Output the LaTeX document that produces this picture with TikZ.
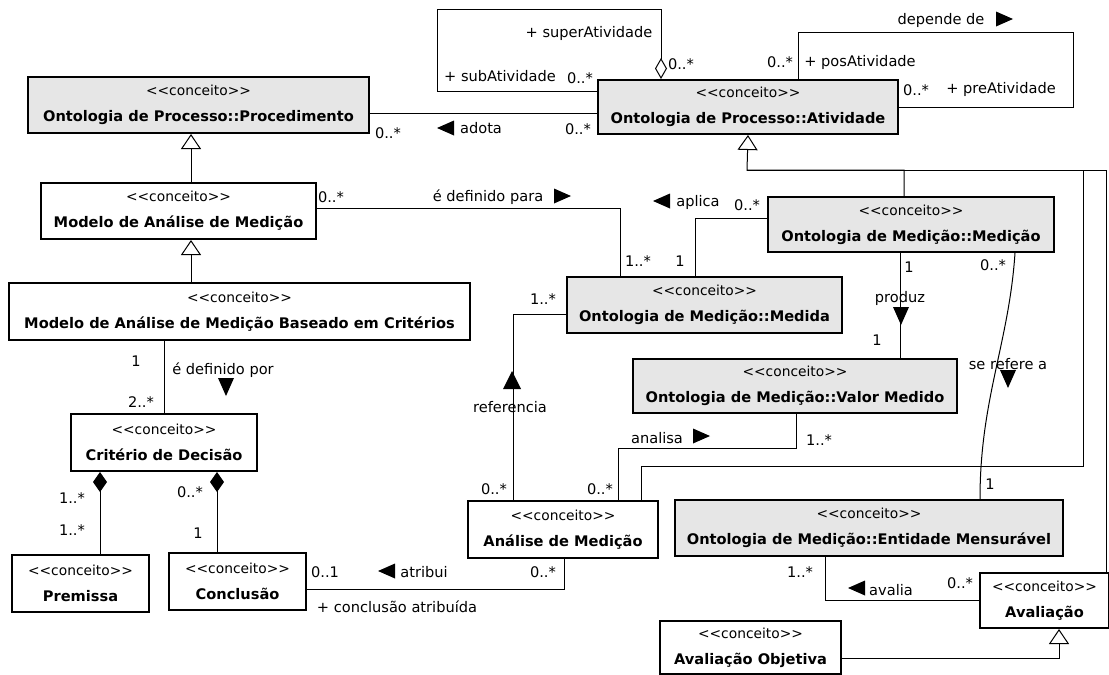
\documentclass[tikz,border=0pt]{standalone}
\usepackage{fontspec}
\setmainfont{DejaVu Sans}
\usetikzlibrary{arrows.meta}
\definecolor{ontogray}{HTML}{E6E6E6}
\newcommand{\stereo}{{\fontsize{13.8}{26}\selectfont <{}<conceito>{}>}}

\begin{document}
\begin{tikzpicture}[x=1pt,y=-1pt,
  concept/.style={draw,line width=2pt,fill=white,align=center,inner sep=0pt,
    anchor=north west,font=\fontsize{14.6}{26}\selectfont},
  ontology/.style={concept,fill=ontogray},
  assoc/.style={line width=1pt},
  gen/.style={assoc,-{Triangle[length=15pt,width=20pt,fill=white]}},
  comp/.style={assoc,{Diamond[length=20pt,width=14pt]}-},
  aggr/.style={assoc,{Diamond[length=21pt,width=12pt,fill=white]}-},
  lbl/.style={font=\fontsize{14.6}{17}\selectfont,inner sep=0pt},
  pics/dir right/.style={code={\fill (-8,-7.5) -- (9,0) -- (-8,7.5) -- cycle;}},
  pics/dir left/.style={code={\fill (8,-7.5) -- (-9,0) -- (8,7.5) -- cycle;}},
  pics/dir down/.style={code={\fill (-8,-9) -- (8,-9) -- (0,9) -- cycle;}},
  pics/dir up/.style={code={\fill (-9,9) -- (9,9) -- (0,-9) -- cycle;}}]

  \useasboundingbox (0,0) rectangle (1109,675);

  % ---- Classes ---------------------------------------------
  \node[ontology,minimum width=341pt,minimum height=56pt] (proc) at (27,76)
    {\stereo\\\textbf{Ontologia de Processo::Procedimento}};
  \node[ontology,minimum width=300pt,minimum height=54pt] (ativ) at (597,79)
    {\stereo\\\textbf{Ontologia de Processo::Atividade}};
  \node[concept,minimum width=275pt,minimum height=56pt] (mam) at (40,182)
    {\stereo\\\textbf{Modelo de Análise de Medição}};
  \node[concept,minimum width=461pt,minimum height=57pt] (base) at (8,282)
    {\stereo\\\textbf{Modelo de Análise de Medição Baseado em Critérios}};
  \node[concept,minimum width=186pt,minimum height=57pt] (crit) at (70,413)
    {\stereo\\\textbf{Critério de Decisão}};
  \node[concept,minimum width=137pt,minimum height=57pt] (prem) at (11,554)
    {\stereo\\\textbf{Premissa}};
  \node[concept,minimum width=137pt,minimum height=57pt] (concl) at (168,552)
    {\stereo\\\textbf{Conclusão}};
  \node[concept,minimum width=190pt,minimum height=57pt] (ana) at (467,500)
    {\stereo\\\textbf{Análise de Medição}};
  \node[ontology,minimum width=275pt,minimum height=56pt] (med) at (566,276)
    {\stereo\\\textbf{Ontologia de Medição::Medida}};
  \node[ontology,minimum width=286pt,minimum height=55pt] (medc) at (767,196)
    {\stereo\\\textbf{Ontologia de Medição::Medição}};
  \node[ontology,minimum width=324pt,minimum height=54pt] (vm) at (632,358)
    {\stereo\\\textbf{Ontologia de Medição::Valor Medido}};
  \node[ontology,minimum width=388pt,minimum height=56pt] (ent) at (674,499)
    {\stereo\\\textbf{Ontologia de Medição::Entidade Mensurável}};
  \node[concept,minimum width=129pt,minimum height=55pt] (ava) at (979,572)
    {\stereo\\\textbf{Avaliação}};
  \node[concept,minimum width=181pt,minimum height=53pt] (obj) at (659,620)
    {\stereo\\\textbf{Avaliação Objetiva}};

  % ---- Atividade: self associations ------------------------
  \draw[aggr] ([xshift=-87pt]ativ.north) |- (437,9) |- ([yshift=16pt]ativ.west);
  \node[lbl] (supA) at (589,33) {+ superAtividade};
  \node[lbl] (supM) at (681,64) {0..*};
  \node[lbl] (subA) at (500,76) {+ subAtividade};
  \node[lbl] (subM) at (580,78) {0..*};

  \draw[assoc] ([xshift=50pt]ativ.north) |- (1073,32) |- (ativ.east);
  \node[lbl] (dep) at (941,20) {depende de};
  \pic at (1004,19) {dir right};
  \node[lbl] (posM) at (780,62) {0..*};
  \node[lbl] (posA) at (860,62) {+ posAtividade};
  \node[lbl] (preM) at (916,90) {0..*};
  \node[lbl] (preA) at (1001,89) {+ preAtividade};

  % ---- adota -----------------------------------------------
  \coordinate (adotaL) at ([yshift=-8pt]proc.east);
  \draw[assoc] (adotaL) -- (adotaL -| ativ.west);
  \node[lbl] (adM1) at (388,133) {0..*};
  \pic at (446,128) {dir left};
  \node[lbl] (adota) at (481,128) {adota};
  \node[lbl] (adM2) at (578,129) {0..*};

  % ---- Generalizations (left) ------------------------------
  \draw[gen] ([xshift=12.5pt]mam.north) coordinate (g1) -- (g1 |- proc.south);
  \draw[gen] ([xshift=-48.5pt]base.north) coordinate (g2) -- (g2 |- mam.south);

  % ---- Generalizations to Atividade ------------------------
  \coordinate (bus) at (747,170);
  \draw[gen] ([xshift=-7pt]medc.north) |- (bus) -- (ativ.south);
  \draw[assoc] ([xshift=61.5pt]ava.north) |- (bus);
  \draw[assoc] ([xshift=78pt]ana.north) |- (1083,466) |- (bus);

  % ---- é definido para / aplica ----------------------------
  \draw[assoc] ([yshift=3pt]mam.east) -| ([xshift=-84.5pt]med.north);
  \node[lbl] (edpM1) at (331,197) {0..*};
  \node[lbl] (edp) at (488,197) {é definido para};
  \pic at (562,196) {dir right};
  \node[lbl] (edpM2) at (638,261) {1..*};

  \draw[assoc] ([xshift=-9.5pt]med.north) |- ([yshift=6.5pt]medc.west);
  \pic at (662,201) {dir left};
  \node[lbl] (apl) at (698,202) {aplica};
  \node[lbl] (aplM1) at (747,205) {0..*};
  \node[lbl] (aplM2) at (680,261) {1};

  % ---- produz / se refere a --------------------------------
  \draw[assoc] ([xshift=-11pt]medc.south) coordinate (p1) -- (p1 |- vm.north);
  \node[lbl] (prM1) at (909,267) {1};
  \node[lbl] (prod) at (900,298) {produz};
  \pic at (901,316) {dir down};
  \node[lbl] (prM2) at (877,340) {1};

  \draw[assoc] ([xshift=104pt]medc.south) .. controls +(-6,90) and +(0,-100)
    .. ([xshift=111pt]ent.north);
  \node[lbl] (refM1) at (993,265) {0..*};
  \node[lbl] (ref) at (1008,364) {se refere a};
  \pic at (1008,379) {dir down};
  \node[lbl] (refM2) at (990,484) {1};

  % ---- referencia / analisa --------------------------------
  \draw[assoc] ([yshift=-9pt]med.west) -| ([xshift=-50pt]ana.north);
  \node[lbl] (rfM1) at (543,299) {1..*};
  \pic at (512,380) {dir up};
  \node[lbl] (rfc) at (510,407) {referencia};
  \node[lbl] (rfM2) at (494,489) {0..*};

  \draw[assoc] ([xshift=1pt]vm.south) -- ++(0,34) -| ([xshift=55pt]ana.north);
  \node[lbl] (anl) at (657,438) {analisa};
  \pic at (701,436) {dir right};
  \node[lbl] (anM1) at (819,440) {1..*};
  \node[lbl] (anM2) at (600,489) {0..*};

  % ---- é definido por / composições ------------------------
  \draw[assoc] (crit.north) -- (crit.north |- base.south);
  \node[lbl] (edM1) at (136,361) {1};
  \node[lbl] (edb) at (223,370) {é definido por};
  \pic at (226,387) {dir down};
  \node[lbl] (edM2) at (141,402) {2..*};

  \draw[comp] ([xshift=-64pt]crit.south) coordinate (c1) -- (c1 |- prem.north);
  \node[lbl] (prmM1) at (72,498) {1..*};
  \node[lbl] (prmM2) at (72,530) {1..*};
  \draw[comp] ([xshift=53pt]crit.south) coordinate (c2) -- (c2 |- concl.north);
  \node[lbl] (conM1) at (190,492) {0..*};
  \node[lbl] (conM2) at (198,533) {1};

  % ---- atribui ---------------------------------------------
  \draw[assoc] ([xshift=1pt]ana.south) |- ([yshift=-7.5pt]concl.east);
  \node[lbl] (atM1) at (325,572) {0..1};
  \pic at (387,571) {dir left};
  \node[lbl] (atr) at (424,572) {atribui};
  \node[lbl] (atM2) at (543,572) {0..*};
  \node[lbl] (atRole) at (397,607) {+ conclusão atribuída};

  % ---- avalia / Avaliação Objetiva -------------------------
  \draw[assoc] ([xshift=-44pt]ent.south) |- (ava.west);
  \node[lbl] (avM1) at (800,572) {1..*};
  \pic at (857,588) {dir left};
  \node[lbl] (aval) at (891,590) {avalia};
  \node[lbl] (avM2) at (960,583) {0..*};

  \draw[gen] ([yshift=-10.5pt]obj.east) -| ([xshift=14.5pt]ava.south);

\end{tikzpicture}
\end{document}
